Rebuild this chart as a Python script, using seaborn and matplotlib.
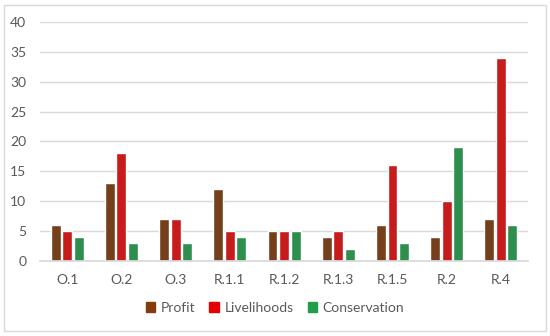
import matplotlib
matplotlib.use("Agg")
import matplotlib.pyplot as plt
import seaborn as sns
import pandas as pd
from matplotlib.patches import Rectangle

# data
categories = ["O.1", "O.2", "O.3", "R.1.1", "R.1.2", "R.1.3", "R.1.5", "R.2", "R.4"]
profit = [6, 13, 7, 12, 5, 4, 6, 4, 7]
livelihoods = [5, 18, 7, 5, 5, 5, 16, 10, 34]
conservation = [4, 3, 3, 4, 5, 2, 3, 19, 6]
series_names = ["Profit", "Livelihoods", "Conservation"]
colors = ["#843C0C", "#E20000", "#1E9E48"]

rows = []
for i, cat in enumerate(categories):
    rows.append({"Category": cat, "Series": "Profit", "Value": profit[i]})
    rows.append({"Category": cat, "Series": "Livelihoods", "Value": livelihoods[i]})
    rows.append({"Category": cat, "Series": "Conservation", "Value": conservation[i]})
df = pd.DataFrame(rows)

sns.set_theme(style="white")
plt.rcParams["font.family"] = ["Lato", "DejaVu Sans"]

fig = plt.figure(figsize=(5.5, 3.36), dpi=100)
ax = fig.add_axes([0.073, 0.223, 0.887, 0.712])

sns.barplot(data=df, x="Category", y="Value", hue="Series", hue_order=series_names,
            palette=colors, width=0.64, gap=0.14, ax=ax, legend=False)

ax.set_ylim(0, 40)
ax.set_yticks(range(0, 41, 5))
ax.set_xlim(-0.5, len(categories) - 0.5)
ax.yaxis.grid(True, color="#d9d9d9", linewidth=1)
ax.set_axisbelow(True)
for s in ["top", "right", "left"]:
    ax.spines[s].set_visible(False)
ax.spines["bottom"].set_color("#d9d9d9")
ax.tick_params(axis="both", length=0, labelsize=10, labelcolor="#595959")
ax.tick_params(axis="x", pad=9)
ax.tick_params(axis="y", pad=10)
ax.set_xlabel("")
ax.set_ylabel("")

handles = [Rectangle((0, 0), 1, 1, color=c) for c in colors]
fig.legend(handles, series_names, loc="center", bbox_to_anchor=(0.5, 0.083), ncol=3,
           frameon=False, fontsize=10, handlelength=0.7, handleheight=0.7,
           handletextpad=0.4, columnspacing=1.0, labelcolor="#595959")

# light border around the whole chart
fig.patches.append(Rectangle((0.008, 0.015), 0.984, 0.97, transform=fig.transFigure,
                             fill=False, edgecolor="#d9d9d9", linewidth=1))

fig.savefig("out.png", dpi=100)
